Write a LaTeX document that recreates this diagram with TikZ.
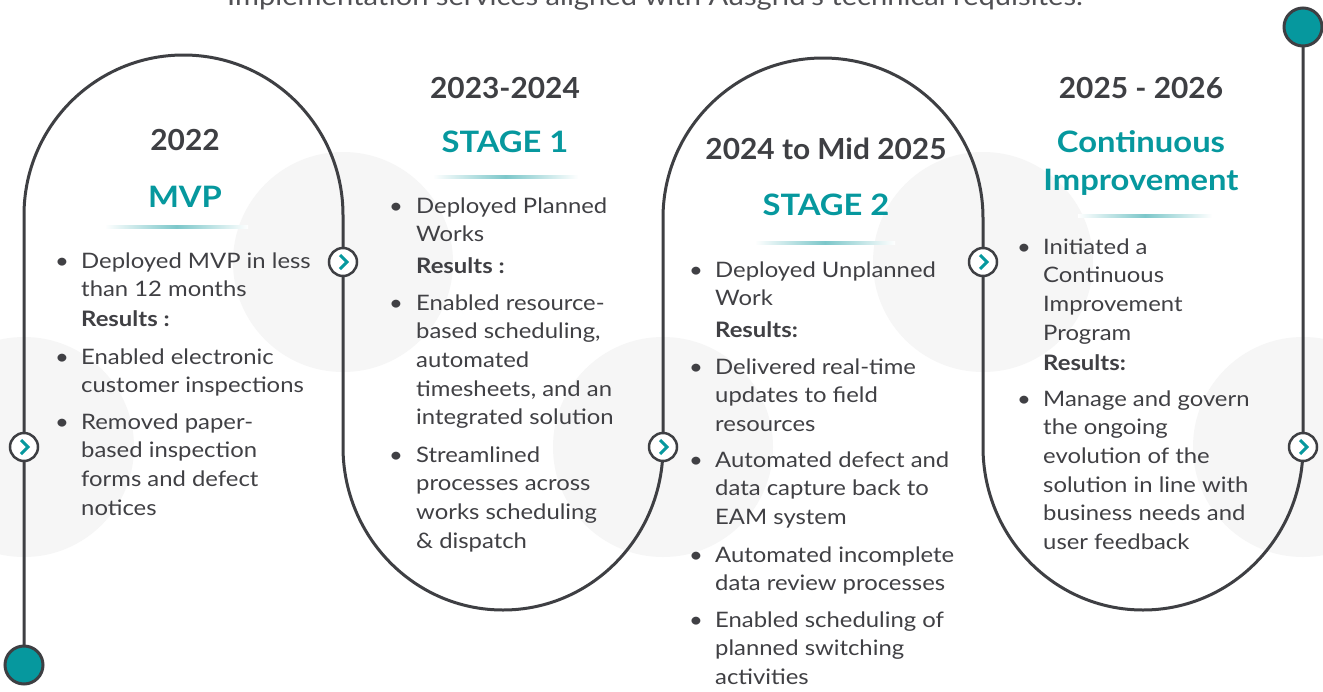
\documentclass[tikz,border=0pt]{standalone}
\usepackage{fontspec}
\setmainfont{Lato}
\newfontfamily\bodyf{Lato}[FakeStretch=1.12]
\newfontfamily\yearf{Lato}[FakeStretch=1.03]
\newfontfamily\stagef{Lato}[FakeStretch=1.11]
\definecolor{ink}{HTML}{3E3F43}
\definecolor{txt}{HTML}{404044}
\definecolor{tealc}{HTML}{06989E}
\definecolor{bgc}{HTML}{F6F6F6}
\definecolor{sepc}{HTML}{7CC7CA}
\definecolor{introc}{HTML}{505054}
\tikzset{
  body/.style={anchor=base west, inner sep=0pt, text=txt, font=\bodyf\fontsize{21.3}{28.7}\selectfont},
  bodyb/.style={body, font=\bodyf\fontsize{21.3}{28.7}\selectfont\bfseries},
  bdot/.style={anchor=base, inner sep=0pt, text=txt, font=\bodyf\fontsize{21.3}{28.7}\selectfont},
  year/.style={anchor=base, inner sep=0pt, text=ink, font=\yearf\fontsize{29}{34}\selectfont\bfseries},
  stage/.style={anchor=base, inner sep=0pt, text=tealc, font=\stagef\fontsize{29.5}{34}\selectfont\bfseries},
  chev/.style={circle, draw=ink, line width=2.5pt, fill=white, minimum size=28pt, inner sep=0pt},
  endpt/.style={circle, draw=ink, line width=3pt, fill=tealc, minimum size=38pt, inner sep=0pt},
  track/.style={draw=ink, line width=3pt},
  arrowmark/.style={draw=tealc, line width=3pt},
}
\newcommand{\sepline}[3]{\shade[left color=white, right color=white, middle color=sepc] (#1,#3-1.2) rectangle (#2,#3+1.2);}
\begin{document}
\begin{tikzpicture}[x=1pt,y=-1pt]
\useasboundingbox (0,0) rectangle (1323,691);
\fill[white] (0,0) rectangle (1323,691);
% anchor points
\coordinate (p0) at (24,665);
\coordinate (q1) at (24,447);
\coordinate (q2) at (343,262);
\coordinate (q3) at (663,447);
\coordinate (q4) at (983,262);
\coordinate (q5) at (1303,447);
\coordinate (p1) at (1303,27);
% background circles
\foreach \q in {q1,q2,q3,q4,q5} { \fill[bgc] (\q) circle[radius=110]; }
% intro text (clipped at the top edge, as in the reference)
\node[anchor=base, inner sep=0pt, text=introc, font=\bodyf\fontsize{26}{30}\selectfont] (intro) at (655,5) {Implementation services aligned with Ausgrid’s technical requisites.};
% track
\draw[track] (p0) -- (q1) -- (24,215) .. controls (24,126.6) and (95.4,55) .. (183.5,55)
  .. controls (271.6,55) and (343,126.6) .. (343,215) -- (q2) -- (343,447)
  .. controls (343,537) and (414.6,610) .. (503,610)
  .. controls (591.4,610) and (663,537) .. (q3) -- (663,218)
  .. controls (663,129.6) and (734.6,58) .. (823,58)
  .. controls (911.4,58) and (983,129.6) .. (983,218) -- (q4) -- (983,447)
  .. controls (983,537) and (1054.6,610) .. (1143,610)
  .. controls (1231.4,610) and (1303,537) .. (q5) -- (p1);
% chevron circles
\foreach \q/\n in {q1/c1,q2/c2,q3/c3,q4/c4,q5/c5} {
  \node[chev] (\n) at (\q) {};
  \draw[arrowmark] ([shift={(-3,-7)}]\n.center) -- ([shift={(4,0)}]\n.center) -- ([shift={(-3,7)}]\n.center);
}
\node[endpt] (start) at (p0) {};
\node[endpt] (finish) at (p1) {};
% ---- block 1
\node[year] (y1) at (185,150) {2022};
\node[stage] (s1) at (185,207) {MVP};
\sepline{105}{248}{227}
\node[bdot] (d11) at (62,268) {•};
\node[body] (t11) at (81,268) {\parbox[t]{240pt}{\raggedright Deployed MVP in less\\than 12 months}};
\node[bodyb] (r1) at (81,326) {Results :};
\node[bdot] (d12) at (62,364) {•};
\node[body] (t12) at (81,364) {\parbox[t]{240pt}{\raggedright Enabled electronic\\customer inspections}};
\node[bdot] (d13) at (62,429) {•};
\node[body] (t13) at (81,429) {\parbox[t]{240pt}{\raggedright Removed paper-\\based inspection\\forms and defect\\notices}};
% ---- block 2
\node[year] (y2) at (505,98) {2023-2024};
\node[stage] (s2) at (505,152.5) {STAGE 1};
\sepline{433}{578}{177}
\node[bdot] (d21) at (396,213) {•};
\node[body] (t21) at (416,213) {\parbox[t]{240pt}{\raggedright Deployed Planned\\Works}};
\node[bodyb] (r2) at (416,273) {Results :};
\node[bdot] (d22) at (396,310) {•};
\node[body] (t22) at (416,310) {\parbox[t]{240pt}{\raggedright Enabled resource-\\based scheduling,\\automated\\timesheets, and an\\integrated solution}};
\node[bdot] (d23) at (396,462) {•};
\node[body] (t23) at (416,462) {\parbox[t]{240pt}{\raggedright Streamlined\\processes across\\works scheduling\\\& dispatch}};
% ---- block 3
\node[year] (y3) at (826,159) {2024 to Mid 2025};
\node[stage] (s3) at (826,215) {STAGE 2};
\sepline{755}{895}{243}
\node[bdot] (d31) at (696,277) {•};
\node[body] (t31) at (715,277) {\parbox[t]{260pt}{\raggedright Deployed Unplanned\\Work}};
\node[bodyb] (r3) at (715,337) {Results:};
\node[bdot] (d32) at (696,374) {•};
\node[body] (t32) at (715,374) {\parbox[t]{260pt}{\raggedright Delivered real-time\\updates to field\\resources}};
\node[bdot] (d33) at (696,467) {•};
\node[body] (t33) at (715,467) {\parbox[t]{260pt}{\raggedright Automated defect and\\data capture back to\\EAM system}};
\node[bdot] (d34) at (696,562) {•};
\node[body] (t34) at (715,562) {\parbox[t]{260pt}{\raggedright Automated incomplete\\data review processes}};
\node[bdot] (d35) at (696,627) {•};
\node[body] (t35) at (715,627) {\parbox[t]{260pt}{\raggedright Enabled scheduling of\\planned switching\\activities}};
% ---- block 4
\node[year] (y4) at (1141,98) {2025 - 2026};
\node[stage] (s4a) at (1141,152) {Continuous};
\node[stage] (s4b) at (1141,190) {Improvement};
\sepline{1078}{1212}{216}
\node[bdot] (d41) at (1024,254) {•};
\node[body] (t41) at (1043,254) {\parbox[t]{240pt}{\raggedright Initiated a\\Continuous\\Improvement\\Program}};
\node[bodyb] (r4) at (1043,370) {Results:};
\node[bdot] (d42) at (1024,406) {•};
\node[body] (t42) at (1043,406) {\parbox[t]{240pt}{\raggedright Manage and govern\\the ongoing\\evolution of the\\solution in line with\\business needs and\\user feedback}};
\end{tikzpicture}
\end{document}
